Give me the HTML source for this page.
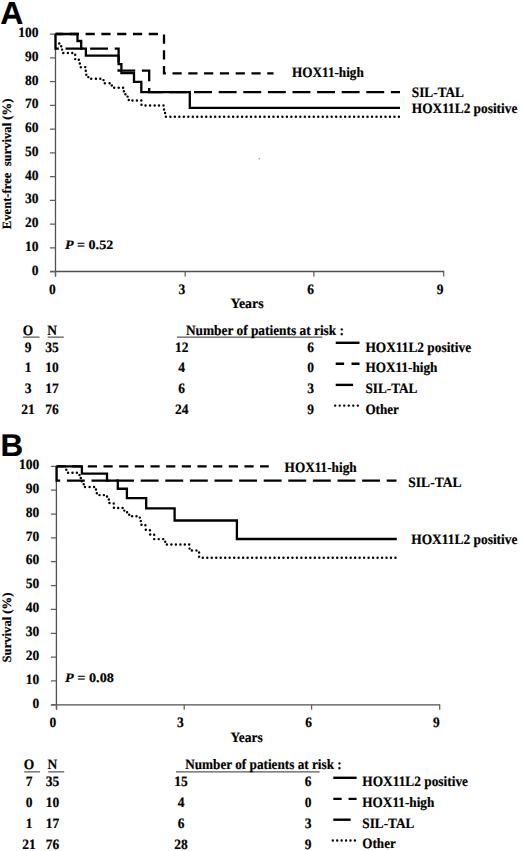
<!DOCTYPE html><html><head><meta charset="utf-8"><style>html,body{margin:0;padding:0;background:#fff;}body{width:520px;height:851px;overflow:hidden;}</style></head><body><svg width="520" height="851" viewBox="0 0 520 851" style="display:block">
<rect width="520" height="851" fill="#fff"/>
<g style="font-family:'Liberation Serif',serif;font-weight:bold;text-rendering:geometricPrecision;" fill="#000" stroke="#000" stroke-width="0.18">
<path d="M55.5 33.6V276.5M50.0 271.5H444.2" stroke="#505050" stroke-width="1.3" fill="none"/>
<path d="M50.0 34.10H55.5M50.0 57.84H55.5M50.0 81.58H55.5M50.0 105.32H55.5M50.0 129.06H55.5M50.0 152.80H55.5M50.0 176.54H55.5M50.0 200.28H55.5M50.0 224.02H55.5M50.0 247.76H55.5M50.0 271.50H55.5M55.5 271.5V276.5M185.2 271.5V276.5M313.9 271.5V276.5M443.7 271.5V276.5" stroke="#606060" stroke-width="1.25" fill="none"/>
<text transform="translate(38.6 37.10) scale(1 1.06)" font-size="13.5" text-anchor="end">100</text>
<text transform="translate(38.6 60.84) scale(1 1.06)" font-size="13.5" text-anchor="end">90</text>
<text transform="translate(38.6 84.58) scale(1 1.06)" font-size="13.5" text-anchor="end">80</text>
<text transform="translate(38.6 108.32) scale(1 1.06)" font-size="13.5" text-anchor="end">70</text>
<text transform="translate(38.6 132.06) scale(1 1.06)" font-size="13.5" text-anchor="end">60</text>
<text transform="translate(38.6 155.80) scale(1 1.06)" font-size="13.5" text-anchor="end">50</text>
<text transform="translate(38.6 179.54) scale(1 1.06)" font-size="13.5" text-anchor="end">40</text>
<text transform="translate(38.6 203.28) scale(1 1.06)" font-size="13.5" text-anchor="end">30</text>
<text transform="translate(38.6 227.02) scale(1 1.06)" font-size="13.5" text-anchor="end">20</text>
<text transform="translate(38.6 250.76) scale(1 1.06)" font-size="13.5" text-anchor="end">10</text>
<text transform="translate(38.6 274.50) scale(1 1.06)" font-size="13.5" text-anchor="end">0</text>
<text transform="translate(52.40 294.3) scale(1 1.06)" font-size="13.5" text-anchor="middle">0</text>
<text transform="translate(181.80 294.3) scale(1 1.06)" font-size="13.5" text-anchor="middle">3</text>
<text transform="translate(310.50 294.3) scale(1 1.06)" font-size="13.5" text-anchor="middle">6</text>
<text transform="translate(440.10 294.3) scale(1 1.06)" font-size="13.5" text-anchor="middle">9</text>
<path d="M59.25 43.40h0M61.20 46.30h0M62.10 49.60h0M63.30 53.00h0M67.90 53.00h0M72.30 53.00h0M75.20 54.70h0M75.20 59.10h0M78.80 59.80h0M79.80 63.50h0M80.80 67.30h0M85.20 67.10h0M85.80 70.80h0M86.30 74.80h0M88.30 77.10h0M91.20 78.80h0M95.90 78.80h0M100.30 78.80h0M103.50 80.10h0M104.80 83.30h0M109.60 83.30h0M111.80 85.50h0M114.20 87.70h0M118.70 87.70h0M123.10 87.70h0M123.90 91.30h0M125.40 94.30h0M127.60 96.60h0M128.80 99.90h0M132.50 100.40h0M136.90 100.40h0M141.30 100.40h0M141.50 104.70h0M145.50 105.40h0M150.10 105.40h0M154.70 105.40h0M159.00 105.40h0M163.50 105.40h0M164.00 109.50h0M165.10 112.90h0M165.90 116.75h0M170.38 116.75h0M174.86 116.75h0M179.34 116.75h0M183.82 116.75h0M188.31 116.75h0M192.79 116.75h0M197.27 116.75h0M201.75 116.75h0M206.23 116.75h0M210.71 116.75h0M215.19 116.75h0M219.67 116.75h0M224.15 116.75h0M228.63 116.75h0M233.12 116.75h0M237.60 116.75h0M242.08 116.75h0M246.56 116.75h0M251.04 116.75h0M255.52 116.75h0M260.00 116.75h0M264.48 116.75h0M268.96 116.75h0M273.44 116.75h0M277.93 116.75h0M282.41 116.75h0M286.89 116.75h0M291.37 116.75h0M295.85 116.75h0M300.33 116.75h0M304.81 116.75h0M309.29 116.75h0M313.77 116.75h0M318.25 116.75h0M322.74 116.75h0M327.22 116.75h0M331.70 116.75h0M336.18 116.75h0M340.66 116.75h0M345.14 116.75h0M349.62 116.75h0M354.10 116.75h0M358.58 116.75h0M363.06 116.75h0M367.54 116.75h0M372.03 116.75h0M376.51 116.75h0M380.99 116.75h0M385.47 116.75h0M389.95 116.75h0M394.43 116.75h0M398.91 116.75h0" stroke="#000" fill="none" stroke-linecap="round" stroke-width="2.45"/>
<path d="M55.5 34V48.6H118.6V70.6H149.2V92.2H400" stroke="#000" stroke-width="2.3" fill="none" stroke-dasharray="17.9 6.7"/>
<path d="M55.5 34H164V73.4H273.5" stroke="#000" stroke-width="2.3" fill="none" stroke-dasharray="9.2 6.59" stroke-dashoffset="1.5"/>
<path d="M55.5 34H77.5V41H81.2V48.6H85.9V55.6H118.6V64.2H121.4V73.2H134V81.8H141.3V92.2H189.8V107.8H400" stroke="#000" stroke-width="2.3" fill="none" stroke-linejoin="miter"/>
<text transform="translate(292 76.8) scale(1 1.06)" font-size="13.5" text-anchor="start" textLength="71.8" lengthAdjust="spacingAndGlyphs">HOX11-high</text>
<text transform="translate(411.8 97) scale(1 1.06)" font-size="13.5" text-anchor="start" textLength="52.2" lengthAdjust="spacingAndGlyphs">SIL-TAL</text>
<text transform="translate(411.8 113.2) scale(1 1.06)" font-size="13.5" text-anchor="start" textLength="105.5" lengthAdjust="spacingAndGlyphs">HOX11L2 positive</text>
<text transform="translate(230.4 307.9) scale(1 1.06)" font-size="13.5" text-anchor="start" textLength="33.2" lengthAdjust="spacingAndGlyphs">Years</text>
<text x="65" y="248.6" font-size="13" textLength="48.2" lengthAdjust="spacingAndGlyphs"><tspan font-style="italic">P</tspan> = 0.52</text>
<text transform="translate(11.1 229.2) rotate(-90)" font-size="12.7" textLength="130.6" lengthAdjust="spacingAndGlyphs" xml:space="preserve">Event-free  survival (%)</text>
<text x="0.2" y="23.6" font-size="32" style="font-family:'Liberation Sans',sans-serif;font-weight:bold;">A</text>
<text transform="translate(28.0 334.7) scale(1 1.06)" font-size="13.5" text-anchor="middle">O</text>
<text transform="translate(52.0 334.7) scale(1 1.06)" font-size="13.5" text-anchor="middle">N</text>
<path d="M23.1 337H39.5M47.7 337H63.8M176.9 337H322.3" stroke="#5a5a5a" stroke-width="1.25"/>
<text transform="translate(185.9 334.7) scale(1 1.06)" font-size="13.5" text-anchor="start" textLength="158.1" lengthAdjust="spacingAndGlyphs">Number of patients at risk :</text>
<text transform="translate(28.0 351.8) scale(1 1.06)" font-size="13.5" text-anchor="middle">9</text>
<text transform="translate(52.0 351.8) scale(1 1.06)" font-size="13.5" text-anchor="middle">35</text>
<text transform="translate(181.7 351.8) scale(1 1.06)" font-size="13.5" text-anchor="middle">12</text>
<text transform="translate(310.6 351.8) scale(1 1.06)" font-size="13.5" text-anchor="middle">6</text>
<text transform="translate(28.0 372.3) scale(1 1.06)" font-size="13.5" text-anchor="middle">1</text>
<text transform="translate(52.0 372.3) scale(1 1.06)" font-size="13.5" text-anchor="middle">10</text>
<text transform="translate(181.7 372.3) scale(1 1.06)" font-size="13.5" text-anchor="middle">4</text>
<text transform="translate(310.6 372.3) scale(1 1.06)" font-size="13.5" text-anchor="middle">0</text>
<text transform="translate(28.0 392.8) scale(1 1.06)" font-size="13.5" text-anchor="middle">3</text>
<text transform="translate(52.0 392.8) scale(1 1.06)" font-size="13.5" text-anchor="middle">17</text>
<text transform="translate(181.7 392.8) scale(1 1.06)" font-size="13.5" text-anchor="middle">6</text>
<text transform="translate(310.6 392.8) scale(1 1.06)" font-size="13.5" text-anchor="middle">3</text>
<text transform="translate(28.0 413.9) scale(1 1.06)" font-size="13.5" text-anchor="middle">21</text>
<text transform="translate(52.0 413.9) scale(1 1.06)" font-size="13.5" text-anchor="middle">76</text>
<text transform="translate(181.7 413.9) scale(1 1.06)" font-size="13.5" text-anchor="middle">24</text>
<text transform="translate(310.6 413.9) scale(1 1.06)" font-size="13.5" text-anchor="middle">9</text>
<path d="M335.7 342.8H359.5" stroke="#000" stroke-width="2.4"/>
<path d="M335.7 363.7H344.09999999999997M351.5 363.7H359.5" stroke="#000" stroke-width="2.4"/>
<path d="M335.7 384.9H353.09999999999997" stroke="#000" stroke-width="2.4"/>
<path d="M335.2 405.6H358.3" stroke="#000" stroke-width="2.4" stroke-linecap="round" stroke-dasharray="0 4.520"/>
<text transform="translate(365.4 351.6) scale(1 1.06)" font-size="13.5" text-anchor="start" textLength="105.7" lengthAdjust="spacingAndGlyphs">HOX11L2 positive</text>
<text transform="translate(365.4 372.1) scale(1 1.06)" font-size="13.5" text-anchor="start" textLength="72" lengthAdjust="spacingAndGlyphs">HOX11-high</text>
<text transform="translate(365.4 392.9) scale(1 1.06)" font-size="13.5" text-anchor="start" textLength="52" lengthAdjust="spacingAndGlyphs">SIL-TAL</text>
<text transform="translate(365.4 413.7) scale(1 1.06)" font-size="13.5" text-anchor="start" textLength="33.5" lengthAdjust="spacingAndGlyphs">Other</text>
<path d="M56.4 465.8V709.8M50.9 704.8H440.2" stroke="#505050" stroke-width="1.3" fill="none"/>
<path d="M50.9 466.30H56.4M50.9 490.15H56.4M50.9 514.00H56.4M50.9 537.85H56.4M50.9 561.70H56.4M50.9 585.55H56.4M50.9 609.40H56.4M50.9 633.25H56.4M50.9 657.10H56.4M50.9 680.95H56.4M50.9 704.80H56.4M56.6 704.8V709.8M184.2 704.8V709.8M311.6 704.8V709.8M439.7 704.8V709.8" stroke="#606060" stroke-width="1.25" fill="none"/>
<text transform="translate(39.2 469.00) scale(1 1.06)" font-size="13.5" text-anchor="end">100</text>
<text transform="translate(39.2 492.85) scale(1 1.06)" font-size="13.5" text-anchor="end">90</text>
<text transform="translate(39.2 516.70) scale(1 1.06)" font-size="13.5" text-anchor="end">80</text>
<text transform="translate(39.2 540.55) scale(1 1.06)" font-size="13.5" text-anchor="end">70</text>
<text transform="translate(39.2 564.40) scale(1 1.06)" font-size="13.5" text-anchor="end">60</text>
<text transform="translate(39.2 588.25) scale(1 1.06)" font-size="13.5" text-anchor="end">50</text>
<text transform="translate(39.2 612.10) scale(1 1.06)" font-size="13.5" text-anchor="end">40</text>
<text transform="translate(39.2 635.95) scale(1 1.06)" font-size="13.5" text-anchor="end">30</text>
<text transform="translate(39.2 659.80) scale(1 1.06)" font-size="13.5" text-anchor="end">20</text>
<text transform="translate(39.2 683.65) scale(1 1.06)" font-size="13.5" text-anchor="end">10</text>
<text transform="translate(39.2 707.50) scale(1 1.06)" font-size="13.5" text-anchor="end">0</text>
<text transform="translate(52.90 727.4) scale(1 1.06)" font-size="13.5" text-anchor="middle">0</text>
<text transform="translate(180.40 727.4) scale(1 1.06)" font-size="13.5" text-anchor="middle">3</text>
<text transform="translate(308.50 727.4) scale(1 1.06)" font-size="13.5" text-anchor="middle">6</text>
<text transform="translate(436.40 727.4) scale(1 1.06)" font-size="13.5" text-anchor="middle">9</text>
<path d="M66.30 469.80h0M68.10 472.80h0M72.50 472.80h0M76.90 472.80h0M79.50 474.90h0M80.80 478.00h0M81.80 481.20h0M83.70 484.20h0M85.00 486.90h0M89.60 486.90h0M94.10 486.90h0M96.00 489.50h0M96.80 493.30h0M99.50 495.10h0M103.90 495.10h0M107.00 496.40h0M108.80 499.50h0M109.50 502.90h0M113.70 503.50h0M113.90 507.70h0M118.20 507.90h0M122.60 507.90h0M124.30 510.60h0M127.10 512.20h0M129.25 514.70h0M132.10 516.30h0M136.50 516.20h0M139.80 517.60h0M140.80 521.10h0M141.50 524.80h0M145.40 525.30h0M145.80 529.70h0M149.90 530.20h0M150.20 534.50h0M154.20 534.80h0M154.20 539.10h0M158.70 539.10h0M163.20 539.10h0M165.20 541.70h0M166.90 544.50h0M171.40 544.50h0M175.90 544.50h0M180.40 544.50h0M184.80 544.50h0M189.20 544.40h0M189.60 548.60h0M191.90 550.50h0M196.50 550.50h0M199.10 552.50h0M199.10 556.80h0M202.80 557.65h0M207.28 557.65h0M211.76 557.65h0M216.24 557.65h0M220.72 557.65h0M225.21 557.65h0M229.69 557.65h0M234.17 557.65h0M238.65 557.65h0M243.13 557.65h0M247.61 557.65h0M252.09 557.65h0M256.57 557.65h0M261.05 557.65h0M265.53 557.65h0M270.01 557.65h0M274.50 557.65h0M278.98 557.65h0M283.46 557.65h0M287.94 557.65h0M292.42 557.65h0M296.90 557.65h0M301.38 557.65h0M305.86 557.65h0M310.34 557.65h0M314.82 557.65h0M319.31 557.65h0M323.79 557.65h0M328.27 557.65h0M332.75 557.65h0M337.23 557.65h0M341.71 557.65h0M346.19 557.65h0M350.67 557.65h0M355.15 557.65h0M359.63 557.65h0M364.12 557.65h0M368.60 557.65h0M373.08 557.65h0M377.56 557.65h0M382.04 557.65h0M386.52 557.65h0M391.00 557.65h0M395.48 557.65h0" stroke="#000" fill="none" stroke-linecap="round" stroke-width="2.45"/>
<path d="M56.6 466.4V480.7H396.5" stroke="#000" stroke-width="2.3" fill="none" stroke-dasharray="17.9 6.7"/>
<path d="M56.6 466.4H268.8" stroke="#000" stroke-width="2.3" fill="none" stroke-dasharray="9.2 6.46" stroke-dashoffset="0.1"/>
<path d="M56.6 466.4H81.9V473.7H107V480.7H117.8V488.75H126.9V498.1H146.2V508.4H174.6V520.5H236.9V539.0H396.8" stroke="#000" stroke-width="2.3" fill="none" stroke-linejoin="miter"/>
<text transform="translate(284.6 471.7) scale(1 1.06)" font-size="13.5" text-anchor="start" textLength="72" lengthAdjust="spacingAndGlyphs">HOX11-high</text>
<text transform="translate(408.3 486.6) scale(1 1.06)" font-size="13.5" text-anchor="start" textLength="53.2" lengthAdjust="spacingAndGlyphs">SIL-TAL</text>
<text transform="translate(411.2 544) scale(1 1.06)" font-size="13.5" text-anchor="start" textLength="106.3" lengthAdjust="spacingAndGlyphs">HOX11L2 positive</text>
<text transform="translate(230.4 742.3) scale(1 1.06)" font-size="13.5" text-anchor="start" textLength="32.3" lengthAdjust="spacingAndGlyphs">Years</text>
<text x="65" y="682.2" font-size="13" textLength="48.9" lengthAdjust="spacingAndGlyphs"><tspan font-style="italic">P</tspan> = 0.08</text>
<text transform="translate(10.6 662.4) rotate(-90)" font-size="12.7" textLength="69.8" lengthAdjust="spacingAndGlyphs" xml:space="preserve">Survival (%)</text>
<text x="0.6" y="455.7" font-size="31.4" style="font-family:'Liberation Sans',sans-serif;font-weight:bold;">B</text>
<text transform="translate(29.0 769.1) scale(1 1.06)" font-size="13.5" text-anchor="middle">O</text>
<text transform="translate(52.4 769.1) scale(1 1.06)" font-size="13.5" text-anchor="middle">N</text>
<path d="M24.2 771.8H40M48.2 771.8H64.2M176 771.8H319.6" stroke="#5a5a5a" stroke-width="1.25"/>
<text transform="translate(185.2 769.1) scale(1 1.06)" font-size="13.5" text-anchor="start" textLength="156.5" lengthAdjust="spacingAndGlyphs">Number of patients at risk :</text>
<text transform="translate(29.0 786.3) scale(1 1.06)" font-size="13.5" text-anchor="middle">7</text>
<text transform="translate(52.4 786.3) scale(1 1.06)" font-size="13.5" text-anchor="middle">35</text>
<text transform="translate(181.0 786.3) scale(1 1.06)" font-size="13.5" text-anchor="middle">15</text>
<text transform="translate(308.0 786.3) scale(1 1.06)" font-size="13.5" text-anchor="middle">6</text>
<text transform="translate(29.0 807.0) scale(1 1.06)" font-size="13.5" text-anchor="middle">0</text>
<text transform="translate(52.4 807.0) scale(1 1.06)" font-size="13.5" text-anchor="middle">10</text>
<text transform="translate(181.0 807.0) scale(1 1.06)" font-size="13.5" text-anchor="middle">4</text>
<text transform="translate(308.0 807.0) scale(1 1.06)" font-size="13.5" text-anchor="middle">0</text>
<text transform="translate(29.0 827.8) scale(1 1.06)" font-size="13.5" text-anchor="middle">1</text>
<text transform="translate(52.4 827.8) scale(1 1.06)" font-size="13.5" text-anchor="middle">17</text>
<text transform="translate(181.0 827.8) scale(1 1.06)" font-size="13.5" text-anchor="middle">6</text>
<text transform="translate(308.0 827.8) scale(1 1.06)" font-size="13.5" text-anchor="middle">3</text>
<text transform="translate(29.0 848.5) scale(1 1.06)" font-size="13.5" text-anchor="middle">21</text>
<text transform="translate(52.4 848.5) scale(1 1.06)" font-size="13.5" text-anchor="middle">76</text>
<text transform="translate(181.0 848.5) scale(1 1.06)" font-size="13.5" text-anchor="middle">28</text>
<text transform="translate(308.0 848.5) scale(1 1.06)" font-size="13.5" text-anchor="middle">9</text>
<path d="M333.3 777.8H356.6" stroke="#000" stroke-width="2.4"/>
<path d="M333.3 798.9H341.7M348.6 798.9H356.6" stroke="#000" stroke-width="2.4"/>
<path d="M333.3 819.7H350.7" stroke="#000" stroke-width="2.4"/>
<path d="M332.8 840.5H355.4" stroke="#000" stroke-width="2.4" stroke-linecap="round" stroke-dasharray="0 4.420"/>
<text transform="translate(362.3 786.0) scale(1 1.06)" font-size="13.5" text-anchor="start" textLength="105.7" lengthAdjust="spacingAndGlyphs">HOX11L2 positive</text>
<text transform="translate(362.3 806.6) scale(1 1.06)" font-size="13.5" text-anchor="start" textLength="72" lengthAdjust="spacingAndGlyphs">HOX11-high</text>
<text transform="translate(362.3 828.0) scale(1 1.06)" font-size="13.5" text-anchor="start" textLength="52" lengthAdjust="spacingAndGlyphs">SIL-TAL</text>
<text transform="translate(362.3 848.3) scale(1 1.06)" font-size="13.5" text-anchor="start" textLength="33.5" lengthAdjust="spacingAndGlyphs">Other</text>
<circle cx="259.2" cy="158.8" r="0.7" fill="#888" stroke="none"/>
</g></svg></body></html>
